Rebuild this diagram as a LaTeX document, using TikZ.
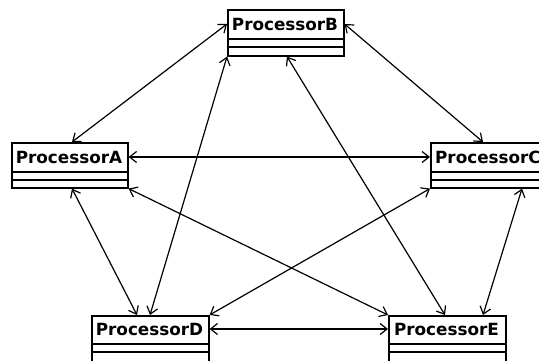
\documentclass[tikz,border=0pt]{standalone}
\usepackage{fontspec}
\setmainfont{DejaVu Sans}
\usetikzlibrary{arrows.meta,calc}

% A UML class: name, north-west corner, width, title height, total height, label
\newcommand\umlclass[6]{%
  \node[classbox, anchor=north west, minimum width=#3pt, minimum height=#5pt] (#1) at #2 {};
  \node[classtitle] (#1-title) at ($(#1.north west)+(#3/2,#4/2)$) {#6};
  \draw[classline] ($(#1.north west)+(0,#4)$) -- ++(#3,0);
  \draw[classline] ($(#1.north west)+(0,#4+8)$) -- ++(#3,0);
}

\begin{document}
\begin{tikzpicture}[x=1pt,y=-1pt,
  classbox/.style={draw, line width=1.6pt, fill=white, inner sep=0pt},
  classline/.style={line width=1.6pt},
  classtitle/.style={font=\fontsize{16.8}{19}\selectfont\bfseries, inner sep=0pt},
  assoc/.style={line width=1.2pt,
    {Straight Barb[length=7pt,width=11pt]}-{Straight Barb[length=7pt,width=11pt]}}]

\useasboundingbox (0,0) rectangle (539,361);
\clip (0,0) rectangle (539,361);

\umlclass{a}{(11,142)}{116}{30}{45}{ProcessorA}
\umlclass{b}{(227,9)}{116}{30}{46}{ProcessorB}
\umlclass{c}{(430,142)}{116}{30}{45}{ProcessorC}
\umlclass{d}{(91,315)}{117}{29}{48}{ProcessorD}
\umlclass{e}{(388,315)}{117}{29}{48}{ProcessorE}

% associations
\draw[assoc] ($(a.north west)+(61,0)$) -- ($(b.north west)+(0,15)$);
\draw[assoc] ($(b.north east)+(0,15)$) -- ($(c.north west)+(53,0)$);
\draw[assoc] ($(a.north east)+(0,15)$) -- ($(c.north west)+(0,15)$);
\draw[assoc] ($(a.south west)+(61,0)$) -- ($(d.north west)+(46,0)$);
\draw[assoc] (a.south east) -- (e.north west);
\draw[assoc] (b.south west) -- ($(d.north west)+(59,0)$);
\draw[assoc] ($(b.south west)+(60,0)$) -- ($(e.north west)+(57,0)$);
\draw[assoc] (c.south west) -- (d.north east);
\draw[assoc] ($(c.south west)+(92,0)$) -- ($(e.north west)+(95,0)$);
\draw[assoc] ($(d.north east)+(0,14)$) -- ($(e.north west)+(0,14)$);
\end{tikzpicture}
\end{document}
